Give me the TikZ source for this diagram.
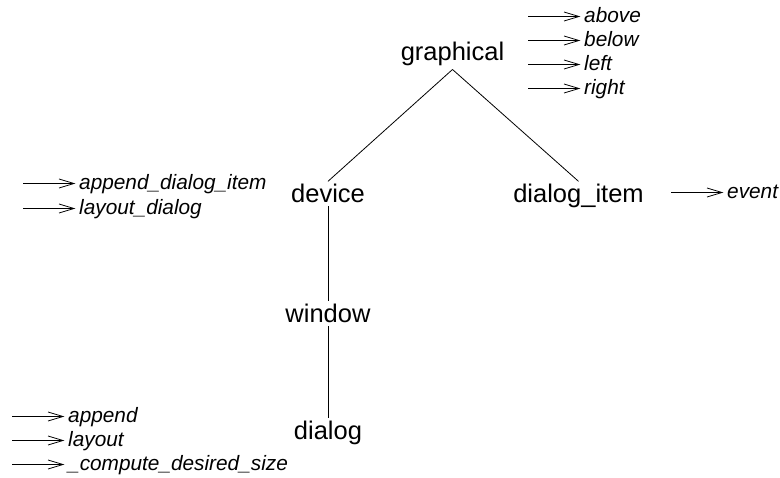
\documentclass[tikz,border=0pt]{standalone}
\usepackage{fontspec}
\setmainfont{Liberation Sans}
\usetikzlibrary{arrows.meta}
\tikzset{
  cls/.style={font=\fontsize{25.5}{30}\selectfont, inner sep=3pt, anchor=base},
  meth/.style={font=\fontsize{20.8}{24}\selectfont\itshape, inner sep=0pt, anchor=base west},
  link/.style={line width=0.8pt},
  marr/.style={line width=0.8pt, line join=miter},
}
\newcommand\mymeth[4]{%
  \coordinate (#1s) at (#2,#3-6.5);
  \node[meth] (#1) at (#2+56,#3) {#4};
  \coordinate (#1e) at ([xshift=-5pt]#1s -| #1.west);
  \draw[marr] (#1s) -- (#1e);
  \draw[marr] ([shift={(-15,-4.5)}]#1e) -- (#1e) -- ([shift={(-15,4.5)}]#1e);
}
\begin{document}
\begin{tikzpicture}[x=1pt,y=-1pt]
\useasboundingbox (0,0) rectangle (780,478);
% classes
\node[cls] (g)   at (452.5,61) {graphical};
\node[cls] (dev) at (328,203)  {device};
\node[cls] (di)  at (578.5,203) {dialog\_item};
\node[cls] (win) at (328,323)  {window};
\node[cls] (dlg) at (328,440)  {dialog};
\draw[link] (g.south) -- (dev.north);
\draw[link] (g.south) -- (di.north);
\draw[link] (dev.south) -- (win.north);
\draw[link] (win.south) -- (dlg.north);
% methods of graphical
\mymeth{mabove}{528}{23}{above}
\mymeth{mbelow}{528}{47}{below}
\mymeth{mleft}{528}{71}{left}
\mymeth{mright}{528}{95}{right}
% methods of device
\mymeth{mappdi}{23}{190}{append\_dialog\_item}
\mymeth{mlaydi}{23}{215}{layout\_dialog}
% methods of dialog_item
\mymeth{mevent}{671}{199}{event}
% methods of dialog
\mymeth{mappend}{12}{423}{append}
\mymeth{mlayout}{12}{447}{layout}
\mymeth{mcomp}{12}{471}{\_compute\_desired\_size}
\end{tikzpicture}
\end{document}
